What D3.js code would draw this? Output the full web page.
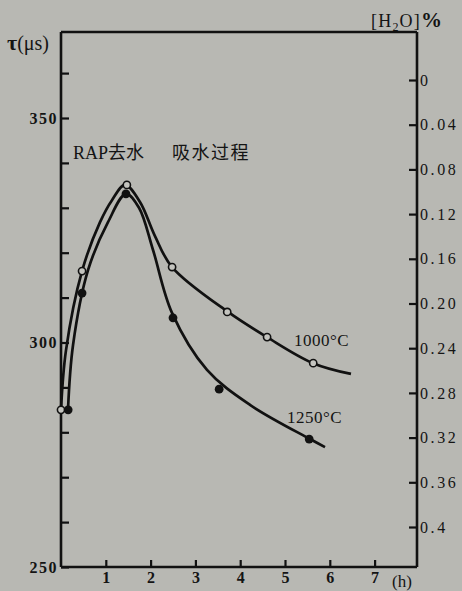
<!DOCTYPE html>
<html><head><meta charset="utf-8">
<script src="https://cdn.jsdelivr.net/npm/d3@7"></script>
<style>
html,body{margin:0;padding:0;background:#b8b8b3;}
svg{display:block;}
text{font-family:"Liberation Serif","DejaVu Serif","Noto Sans CJK SC",serif;fill:#141414;}
</style></head><body>
<svg id="c" width="462" height="591"></svg>
<script>
// measured points (markers)
const hours1000 = [0, 0.47, 1.47, 2.48, 3.71, 4.60, 5.63];
const tau1000   = [285.0, 315.9, 335.1, 316.8, 306.8, 301.2, 295.4];
const hours1250 = [0.16, 0.47, 1.45, 2.50, 3.53, 5.54];
const tau1250   = [285.0, 311.0, 333.1, 305.5, 289.6, 278.5];
// hand-drawn fitted curves
const curve1000Hours = [0, 0.112, 0.469, 0.871, 1.138, 1.429, 1.763, 2.098, 2.478, 3.728, 4.598, 5.625, 6.473];
const curve1000Tau   = [285.0, 298.3, 315.9, 326.8, 331.7, 335.1, 331.3, 323.7, 316.8, 306.8, 301.2, 295.4, 293.0];
const curve1250Hours = [0.156, 0.268, 0.603, 1.049, 1.451, 1.741, 2.054, 2.478, 3.259, 4.219, 5.558, 5.893];
const curve1250Tau   = [285.0, 299.4, 316.1, 326.8, 333.1, 330.0, 320.6, 306.6, 293.9, 286.1, 278.5, 276.7];
// axes
const xTicks = [1, 2, 3, 4, 5, 6, 7];
const yTicks = [250, 260, 270, 280, 290, 300, 310, 320, 330, 340, 350, 360];
const yLabels = [250, 300, 350];
const h2oTicks = [0, 0.04, 0.08, 0.12, 0.16, 0.20, 0.24, 0.28, 0.32, 0.36, 0.4];
const h2oLabels = ["0", "0.04", "0.08", "0.12", "0.16", "0.20", "0.24", "0.28", "0.32", "0.36", "0.4"];
const seriesLabels = ["1000°C", "1250°C"];

const L = 61, R = 417, T = 32, B = 567;
const svg = d3.select("#c");
const x = d3.scaleLinear().domain([0, (R - L) / 44.8]).range([L, R]);
const y = d3.scaleLinear().domain([250, 250 + (B - T) / 4.49]).range([B, T]);
const y2 = d3.scaleLinear().domain([0, 0.4]).range([80, 527]);

// top border
svg.append("line").attr("x1", L).attr("x2", R).attr("y1", T).attr("y2", T)
  .attr("stroke", "#111").attr("stroke-width", 2.6);

function styleAxis(g) {
  g.selectAll("path.domain").attr("stroke", "#111").attr("stroke-width", 2.6);
  g.selectAll(".tick line").attr("stroke", "#111").attr("stroke-width", 2.2);
  g.selectAll(".tick text").attr("fill", "#141414")
    .style("font-family", '"Liberation Serif",serif');
}

const gl = svg.append("g").attr("transform", `translate(${L},0)`)
  .call(d3.axisLeft(y).tickValues(yTicks).tickSizeInner(-8).tickSizeOuter(0).tickPadding(3)
    .tickFormat(d => yLabels.includes(d) ? String(d) : ""));
styleAxis(gl);
gl.selectAll(".tick text").style("font-size", "16px").style("font-weight", "bold").style("letter-spacing", "1.5px");
gl.select("path.domain").attr("d", `M0,${T}V${B}`);

const gr = svg.append("g").attr("transform", `translate(${R},0)`)
  .call(d3.axisRight(y2).tickValues(h2oTicks).tickSizeInner(-8).tickSizeOuter(0).tickPadding(3)
    .tickFormat((d, i) => h2oLabels[i]));
styleAxis(gr);
gr.selectAll(".tick text").style("font-size", "16px").style("letter-spacing", "2.6px");
gr.select("path.domain").attr("d", `M0,${T}V${B}`);

const gb = svg.append("g").attr("transform", `translate(0,${B})`)
  .call(d3.axisBottom(x).tickValues(xTicks).tickSizeInner(-7).tickSizeOuter(0).tickPadding(5)
    .tickFormat(d3.format("d")));
styleAxis(gb);
gb.selectAll(".tick text").style("font-size", "16px").style("font-weight", "bold");
gb.select("path.domain").attr("d", `M${L},0H${R}`);

// curves
const line = d3.line().x(d => x(d[0])).y(d => y(d[1])).curve(d3.curveCatmullRom.alpha(0.5));
svg.append("path").datum(curve1000Hours.map((h, i) => [h, curve1000Tau[i]]))
  .attr("d", line).attr("fill", "none").attr("stroke", "#111").attr("stroke-width", 2.7);
svg.append("path").datum(curve1250Hours.map((h, i) => [h, curve1250Tau[i]]))
  .attr("d", line).attr("fill", "none").attr("stroke", "#111").attr("stroke-width", 2.7);

// markers
svg.append("g").selectAll("circle").data(hours1000.map((h, i) => [h, tau1000[i]])).join("circle")
  .attr("cx", d => x(d[0])).attr("cy", d => y(d[1])).attr("r", 3.6)
  .attr("fill", "#c4c4bf").attr("stroke", "#111").attr("stroke-width", 1.6);
svg.append("g").selectAll("circle").data(hours1250.map((h, i) => [h, tau1250[i]])).join("circle")
  .attr("cx", d => x(d[0])).attr("cy", d => y(d[1])).attr("r", 4.4)
  .attr("fill", "#111");

// texts
svg.append("text").attr("x", 7).attr("y", 50).style("font-size", "20px")
  .html('<tspan font-weight="bold" font-size="22px">τ</tspan>(μs)');
const h = svg.append("text").attr("x", 371).attr("y", 27).style("font-size", "18px").style("letter-spacing", "1.2px");
h.append("tspan").text("[H");
h.append("tspan").attr("font-size", "12px").attr("dy", 4).text("2");
h.append("tspan").attr("dy", -4).text("O]");
h.append("tspan").attr("font-weight", "bold").attr("font-size", "21px").text("%");
svg.append("text").attr("x", 392).attr("y", 587).style("font-size", "17px").text("(h)");
svg.append("text").attr("x", 73).attr("y", 159).style("font-size", "18px")
  .text("RAP去水");
svg.append("text").attr("x", 172).attr("y", 159).style("font-size", "18px")
  .style("letter-spacing", "1.5px").text("吸水过程");
svg.append("text").attr("x", 294).attr("y", 346).style("font-size", "17px").style("letter-spacing", "0.5px").text(seriesLabels[0]);
svg.append("text").attr("x", 287).attr("y", 423).style("font-size", "17px").style("letter-spacing", "0.5px").text(seriesLabels[1]);
</script>
</body></html>
